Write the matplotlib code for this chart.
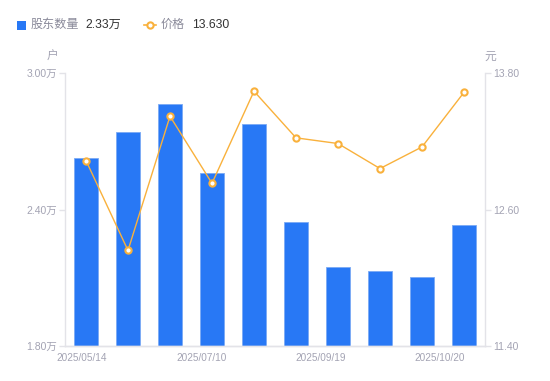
import numpy as np
import matplotlib
matplotlib.use("Agg")
import matplotlib.pyplot as plt
from matplotlib.lines import Line2D

plt.rcParams['font.family'] = ['Liberation Sans', 'Noto Sans CJK SC', 'DejaVu Sans']

# data
holders = [2.626, 2.741, 2.864, 2.560, 2.776, 2.345, 2.147, 2.130, 2.103, 2.330]  # 万户
prices = [13.03, 12.24, 13.42, 12.83, 13.64, 13.23, 13.18, 12.96, 13.15, 13.63]
date_labels = ['2025/05/14', '2025/07/10', '2025/09/19', '2025/10/20']
left_ticks = [1.80, 2.40, 3.00]
right_ticks = [11.40, 12.60, 13.80]

bar_color = '#2878f5'
bar_edge = '#7aaaf5'
line_color = '#f9b13c'
axis_color = '#e3e3e8'
label_color = '#a3a3b3'
text_color = '#333333'

fig = plt.figure(figsize=(5.5, 3.81), dpi=100)
ax = fig.add_axes([65/550, 35/381, 420/550, 273/381])
x = np.arange(len(holders))

ax.bar(x, holders, width=0.58, bottom=0, color=bar_color, edgecolor=bar_edge, linewidth=0.6, zorder=2)
ax.set_ylim(left_ticks[0], left_ticks[-1])
ax.set_xlim(-0.5, len(holders) - 0.5)
ax.set_yticks(left_ticks)
ax.set_yticklabels([f'{v:.2f}万' for v in left_ticks])

ax2 = ax.twinx()
ax2.plot(x, prices, color=line_color, linewidth=1.0, marker='o', markersize=4.5,
         markerfacecolor='white', markeredgecolor=line_color, markeredgewidth=1.5, zorder=3)
ax2.set_ylim(right_ticks[0], right_ticks[-1])
ax2.set_yticks(right_ticks)
ax2.set_yticklabels([f'{v:.2f}' for v in right_ticks])

for a in (ax, ax2):
    a.spines['top'].set_visible(False)
    for s in ('left', 'right', 'bottom'):
        a.spines[s].set_color(axis_color)
        a.spines[s].set_linewidth(1.0)
    a.tick_params(axis='y', colors=axis_color, labelcolor=label_color, labelsize=7.5, length=4, width=1, pad=2)
ax.spines['right'].set_visible(False)
ax2.spines['left'].set_visible(False)

ax.set_xticks(np.linspace(-0.1, 8.43, len(date_labels)))
ax.set_xticklabels(date_labels)
ax.tick_params(axis='x', length=0, labelcolor=label_color, labelsize=7.2, pad=5)

ax.text(-7/420, 1 + 16/273, '户', transform=ax.transAxes, ha='right', va='center', fontsize=8.5, color=label_color)
ax2.text(1 + 5/420, 1 + 16/273, '元', transform=ax2.transAxes, ha='center', va='center', fontsize=8.5, color=label_color)

# legend row
ly = 1 - 25/381
fig.patches.append(plt.Rectangle((17/550, ly - 4.5/381), 9/550, 9/381, transform=fig.transFigure,
                                 facecolor=bar_color, edgecolor='none'))
fig.text(31/550, ly, '股东数量', fontsize=8.7, color='#8a8a9a', va='center')
fig.text(85/550, ly, f'{holders[-1]:.2f}万', fontsize=8.7, color=text_color, va='center')
fig.lines.append(Line2D([144/550, 156/550], [ly] * 2, transform=fig.transFigure,
                        color=line_color, linewidth=1.2))
fig.lines.append(Line2D([150/550], [ly], transform=fig.transFigure, marker='o', markersize=4.5,
                        markerfacecolor='white', markeredgecolor=line_color, markeredgewidth=1.5))
fig.text(161/550, ly, '价格', fontsize=8.7, color='#8a8a9a', va='center')
fig.text(192/550, ly, f'{prices[-1]:.3f}', fontsize=8.7, color=text_color, va='center')

fig.savefig('out.png', dpi=100, facecolor='white')
